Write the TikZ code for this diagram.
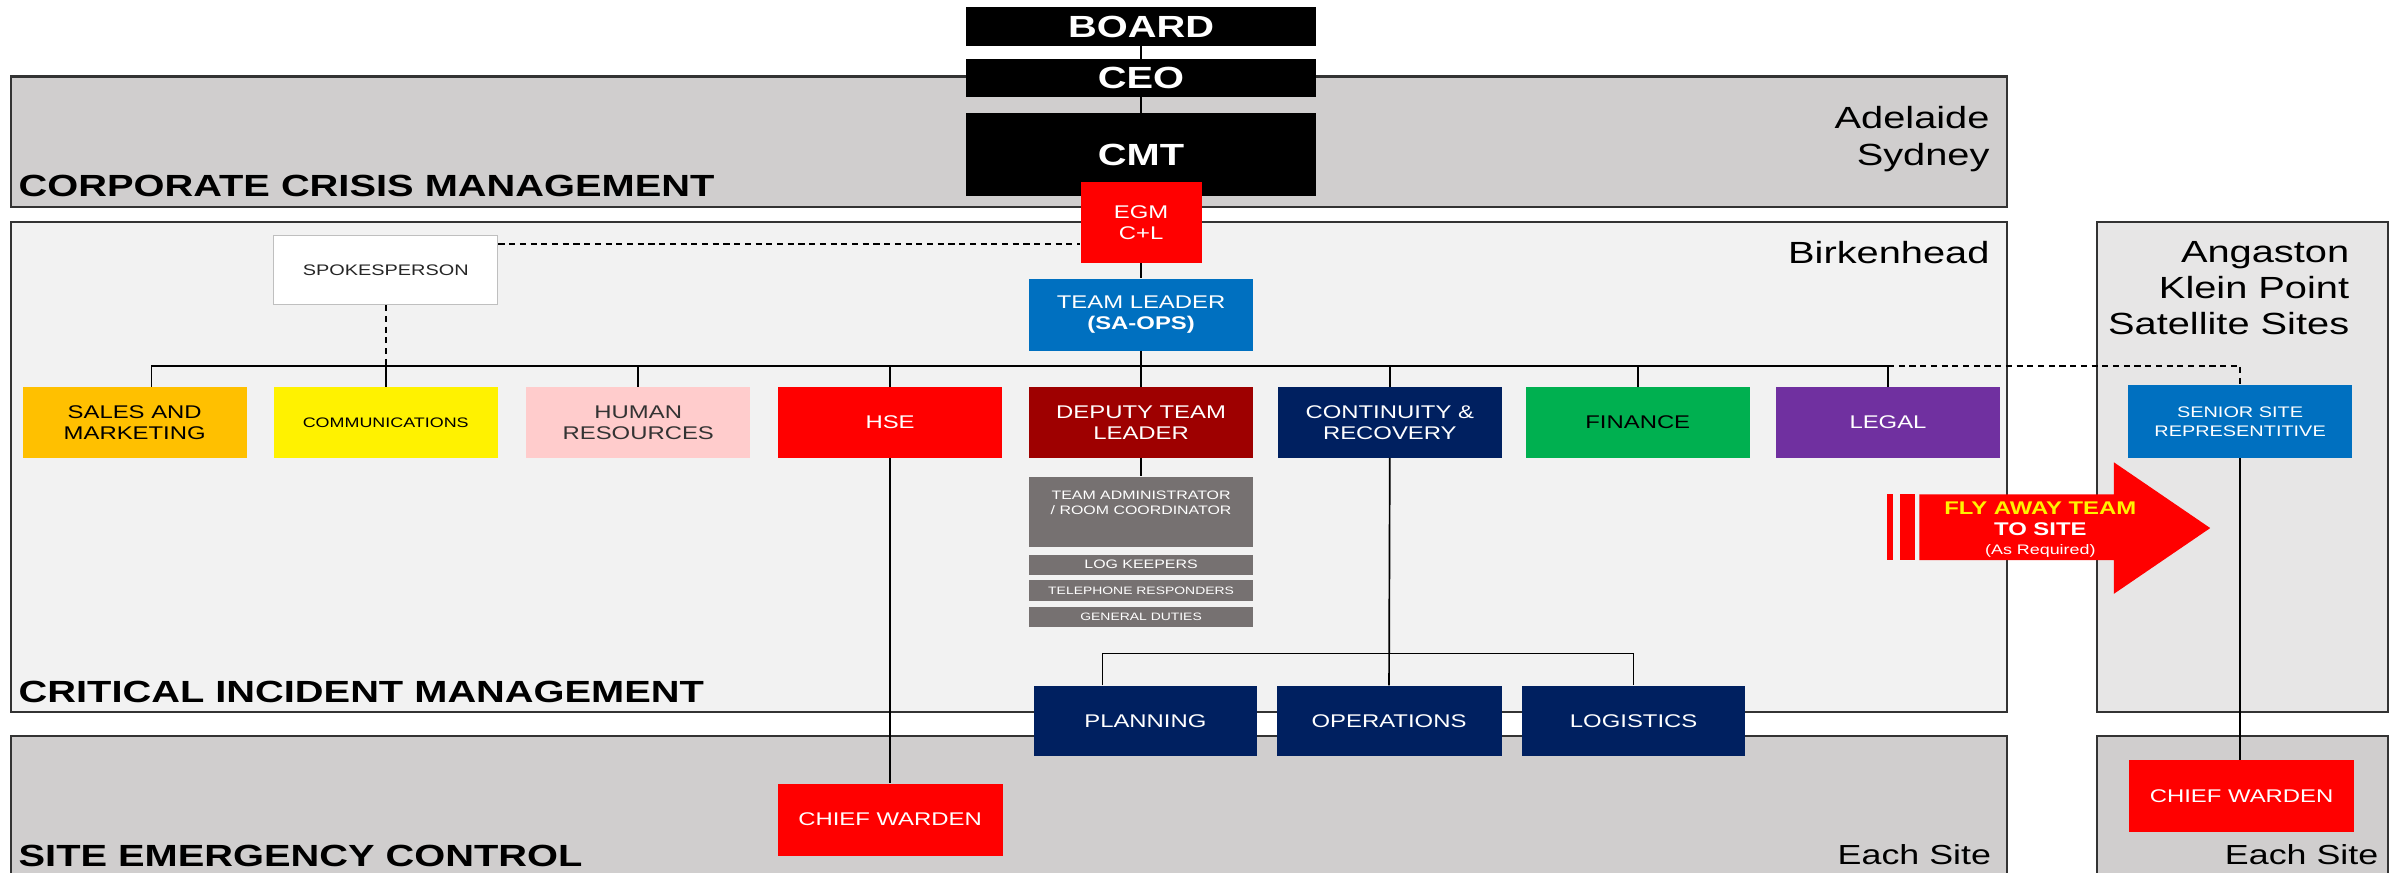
\documentclass[tikz,border=0pt]{standalone}
\usepackage{fontspec}
\setmainfont{Liberation Sans}[FakeStretch=1.3]
\usepackage{xcolor}
\usetikzlibrary{positioning}

\definecolor{bandgray}{HTML}{D0CECE}
\definecolor{bandlight}{HTML}{F2F2F2}
\definecolor{bandmid}{HTML}{E7E6E6}
\definecolor{salesorange}{HTML}{FFC000}
\definecolor{hrpink}{HTML}{FFCCCC}
\definecolor{deputyred}{HTML}{9E0000}
\definecolor{navy}{HTML}{002060}
\definecolor{fingreen}{HTML}{00B050}
\definecolor{legalpurple}{HTML}{7030A0}
\definecolor{leadblue}{HTML}{0070C0}
\definecolor{staffgray}{HTML}{767171}

\begin{document}
\begin{tikzpicture}[x=1pt, y=-1pt,
    % Styles
    band/.style={draw=black!80, line width=1.4pt},
    bandtitle/.style={anchor=base west, inner sep=0pt, font=\fontsize{20}{24}\selectfont\bfseries},
    place/.style={inner sep=0pt, align=right, font=\fontsize{20}{23.7}\selectfont},
    exec/.style={
        rectangle,
        inner sep=0pt,
        minimum width=229pt,
        fill=black,
        text=white,
        font=\fontsize{20}{24}\selectfont\bfseries
    },
    unit/.style={
        rectangle,
        inner sep=0pt,
        minimum width=146.5pt,
        minimum height=46pt,
        align=center,
        text=white,
        font=\fontsize{12}{13.5}\selectfont
    },
    staff/.style={unit, fill=staffgray, minimum height=13pt, font=\fontsize{7}{8}\selectfont},
    link/.style={line width=1.1pt, draw=black},
    dotted link/.style={link, dash pattern=on 4pt off 3pt}
]

\useasboundingbox (0,0) rectangle (1568,570);
\clip (0,0) rectangle (1568,570);

% Bands
\draw[band, fill=bandgray] (7,50) rectangle (1311,135);
\draw[band, fill=bandlight] (7,145) rectangle (1311,465);
\draw[band, fill=bandmid] (1370,145) rectangle (1560,465);
\draw[band, fill=bandgray] (7,481) rectangle (1311,600);
\draw[band, fill=bandgray] (1370,481) rectangle (1560,600);

\node[bandtitle] (ccm) at (12,128.5) {CORPORATE CRISIS MANAGEMENT};
\node[bandtitle] (cim) at (12,459) {CRITICAL INCIDENT MANAGEMENT};
\node[bandtitle] (sec) at (12,566) {SITE EMERGENCY CONTROL};

\node[place, anchor=north east] (adl) at (1300,69.5) {Adelaide\\Sydney};
\node[place, anchor=base east] (bkh) at (1300,172) {Birkenhead};
\node[place, anchor=north east] (sat) at (1535,157.5) {Angaston\\Klein Point\\Satellite Sites};
\node[place, anchor=base east, font=\fontsize{18}{20}\selectfont] (each) at (1301,565) {Each Site};
\node[place, anchor=base east, font=\fontsize{18}{20}\selectfont] (eachsat) at (1554,565) {Each Site};

% Executive chain
\node[exec, minimum height=25.5pt] (board) at (745.5,17.4) {BOARD};
\node[exec, minimum height=24.5pt] (ceo) at (745.5,50.8) {CEO};
\node[exec, minimum height=54pt] (cmt) at (745.5,101) {CMT};
\node[unit, fill=red, minimum width=79pt, minimum height=52.6pt] (egm) at (745.5,145.3) {EGM\\C+L};
\node[unit, fill=leadblue, minimum height=47pt] (lead) at (745.5,205.5) {TEAM LEADER\\\textbf{(SA-OPS)}};
\node[unit, fill=white, draw=black!25, line width=0.8pt, text=black!85, minimum height=45pt,
      font=\fontsize{10}{12}\selectfont] (spokes) at (252,176.5) {SPOKESPERSON};

% Functions
\node[unit, fill=salesorange, text=black] (sales) at (88,276) {SALES AND\\MARKETING};
\node[unit, fill=yellow, text=black, font=\fontsize{9}{11}\selectfont] (comm) at (252,276) {COMMUNICATIONS};
\node[unit, fill=hrpink, text=black!80] (hr) at (417,276) {HUMAN\\RESOURCES};
\node[unit, fill=red] (hse) at (581.5,276) {HSE};
\node[unit, fill=deputyred] (deputy) at (745.5,276) {DEPUTY TEAM\\LEADER};
\node[unit, fill=navy] (cont) at (908,276) {CONTINUITY \&\\RECOVERY};
\node[unit, fill=fingreen, text=black] (fin) at (1070,276) {FINANCE};
\node[unit, fill=legalpurple] (legal) at (1233.5,276) {LEGAL};
\node[unit, fill=leadblue, minimum height=47.3pt, font=\fontsize{10}{12.5}\selectfont] (senior) at (1463.5,275.4) {SENIOR SITE\\REPRESENTITIVE};

% Support staff
\node[unit, fill=staffgray, font=\fontsize{8}{9.5}\selectfont, text depth=12pt] (admin) at (745.5,334.5) {TEAM ADMINISTRATOR\\/ ROOM COORDINATOR};
\node[staff, below=4.5pt of admin, font=\fontsize{8}{9}\selectfont] (logk) {LOG KEEPERS};
\node[staff, below=3pt of logk, minimum height=14pt] (tel) {TELEPHONE RESPONDERS};
\node[staff, below=3.5pt of tel] (gen) {GENERAL DUTIES};

% Operations cells
\node[unit, fill=navy, minimum width=145.5pt] (plan) at (748.3,471) {PLANNING};
\node[unit, fill=navy, minimum width=147pt] (ops) at (907.5,471) {OPERATIONS};
\node[unit, fill=navy, minimum width=145.5pt] (logi) at (1067.3,471) {LOGISTICS};

% Site level
\node[unit, fill=red, minimum width=147pt, minimum height=47pt] (wardena) at (581.5,535.5) {CHIEF WARDEN};
\node[unit, fill=red, minimum width=147pt, minimum height=46.5pt] (wardenb) at (1464.5,520) {CHIEF WARDEN};

% Connectors
\coordinate (bus) at (0,239);
\coordinate (bus2) at (0,427);
\draw[link] (board.south) -- (ceo.north);
\draw[link] (ceo.south) -- (cmt.north);
\draw[link] (egm.south) -- (lead.north);
\draw[link] (lead.south) -- (deputy.north);
\draw[link] ([xshift=11pt]sales.north) |- (legal.north |- bus) -- (legal.north);
\foreach \n in {comm, hr, hse, cont, fin}
    \draw[link] (\n.north) -- (\n.north |- bus);
\draw[dotted link] ([yshift=-6pt]spokes.north east) -- ([yshift=-6pt]spokes.north east -| egm.west);
\draw[dotted link] (spokes.south) -- (spokes.south |- bus);
\draw[dotted link] (legal.north |- bus) -| (senior.north);
\draw[link] (deputy.south) -- (admin.north);
\draw[link] (cont.south) -- (ops.north);
\draw[link] ([xshift=-28pt]plan.north) |- (logi.north |- bus2) -- (logi.north);
\draw[link] (hse.south) -- (wardena.north);
\draw[link] (senior.south) -- (senior.south |- wardenb.north);

% Fly away arrow
\fill[red] (1254,323) -- (1381,323) -- (1381,302) -- (1444,345) -- (1381,388) -- (1381,366) -- (1254,366) -- cycle;
\fill[red] (1233,323) rectangle (1237,366);
\fill[red] (1241,323) rectangle (1251,366);
\node[align=center, inner sep=0pt, text=white, font=\fontsize{12}{14}\selectfont\bfseries] (fly) at (1333,346)
    {\textcolor{yellow}{FLY AWAY TEAM}\\TO SITE\\[-1.5pt]{\fontsize{9}{10}\selectfont\mdseries (As Required)}};

\end{tikzpicture}
\end{document}
